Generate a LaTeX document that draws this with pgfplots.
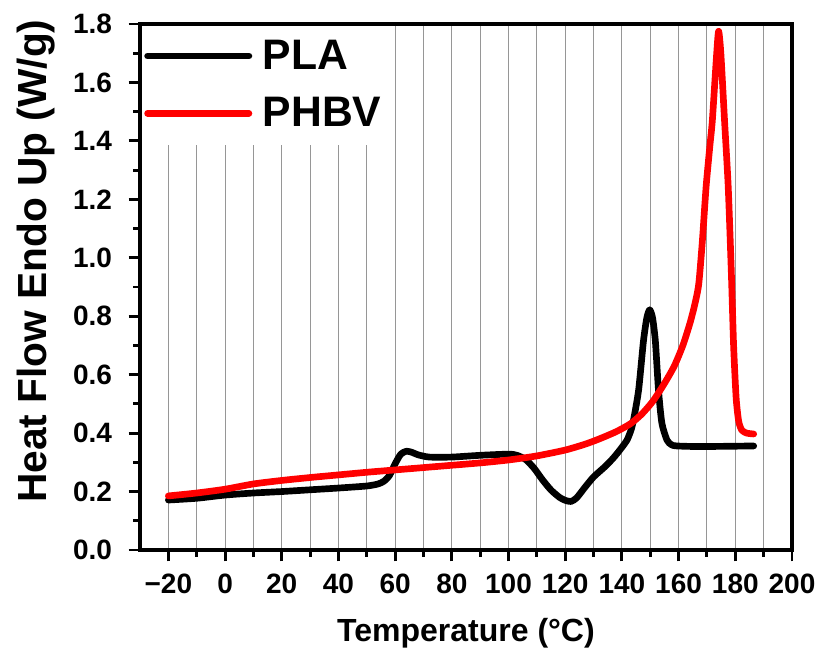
\documentclass[border=0pt]{standalone}
\usepackage{pgfplots}
\pgfplotsset{compat=1.18}
\usepackage{fontspec}
\setmainfont{Liberation Sans}
\definecolor{gridgray}{RGB}{150,150,150}
\definecolor{phbvred}{RGB}{255,0,0}
\begin{document}
\begin{tikzpicture}
\begin{axis}[
  name=main,
  scale only axis, width=489pt, height=394.5pt,
  xmin=-30, xmax=200, ymin=0, ymax=1.8,
  axis line style={line width=3.5pt},
  tick style={line width=2.2pt, black},
  major tick length=8.5pt, minor tick length=5pt,
  tick align=outside, tick pos=left,
  xtick={-20,0,20,40,60,80,100,120,140,160,180,200},
  xticklabels={−20,0,20,40,60,80,100,120,140,160,180,200},
  minor x tick num=1,
  ytick={0,0.2,0.4,0.6,0.8,1.0,1.2,1.4,1.6,1.8},
  minor y tick num=1,
  /pgf/number format/assume math mode=true,
  ticklabel style={font=\bfseries\fontsize{21pt}{21pt}\selectfont},
  xticklabel style={yshift=-6pt},
  yticklabel style={xshift=-9pt, /pgf/number format/.cd, fixed, fixed zerofill, precision=1},
  xmajorgrids, xminorgrids,
  major grid style={gridgray, line width=0.8pt},
  minor grid style={gridgray, line width=0.8pt},
  every axis x label/.style={at={(axis description cs:0.5,0)}, anchor=base, yshift=-69pt},
  every axis y label/.style={at={(axis description cs:0,0.549)}, rotate=90, anchor=base, yshift=69.75pt},
  xlabel={\bfseries\fontsize{24pt}{24pt}\selectfont Temperature (°C)},
  ylabel={\bfseries\fontsize{30.5pt}{30.5pt}\selectfont Heat Flow Endo Up (W/g)},
  legend style={at={(rel axis cs:0,1)}, anchor=north west, draw=none, fill=white,
    font=\bfseries\fontsize{32pt}{32pt}\selectfont, inner xsep=3pt, inner ysep=10pt,
    row sep=15.5pt},
  legend cell align=left,
  legend image code/.code={\draw[#1, line cap=round] (0pt,0pt) -- (76pt,0pt); \path (82pt,0pt);},
]
\addplot[black, line width=5pt, line cap=round, line join=round, smooth, tension=0.4] coordinates {
(-20,0.171) (-10,0.177) (0,0.188) (10,0.195) (20,0.200) (30,0.206) (40,0.212)
(50,0.219) (54,0.226) (56,0.235) (58,0.255) (60,0.295) (62,0.328) (64,0.338)
(66,0.334) (68,0.326) (72,0.318) (80,0.318) (90,0.324) (100,0.328) (103,0.324)
(106,0.31) (109,0.28) (112,0.24) (115,0.205) (118,0.18) (120,0.17) (122,0.166)
(124,0.178) (127,0.215) (130,0.25) (134,0.285) (137,0.315) (139.5,0.345)
(141.8,0.376) (143.2,0.41) (144.1,0.445) (145.9,0.548) (147.6,0.715) (148.8,0.795)
(149.8,0.822) (150.8,0.795) (151.8,0.715) (152.9,0.548) (154.1,0.434)
(155.9,0.376) (157.5,0.36) (159.4,0.356) (167.6,0.354) (186.5,0.356)
};
\addlegendentry{PLA}
\addplot[phbvred, line width=5pt, line cap=round, line join=round, smooth, tension=0.4] coordinates {
(-20,0.185) (-10,0.195) (0,0.208) (10,0.226) (20,0.238) (30,0.248) (40,0.257)
(50,0.266) (60,0.274) (70,0.282) (80,0.29) (90,0.298) (100,0.308) (110,0.322)
(120,0.342) (127,0.362) (132,0.38) (138,0.405) (143,0.432) (147,0.465)
(151,0.51) (155,0.57) (158.5,0.63) (161.5,0.70) (164,0.776) (165.7,0.84)
(167.1,0.91) (168.4,1.06) (169.7,1.243) (171,1.38) (171.9,1.47) (173.3,1.68)
(174.1,1.775) (174.9,1.70) (176.2,1.47) (177.5,1.243) (178.6,0.95) (179.4,0.70)
(180.3,0.52) (181.2,0.44) (182.3,0.41) (184,0.40) (186.5,0.397)
};
\addlegendentry{PHBV}
\end{axis}
\draw[line width=3.5pt, line join=miter] (main.south west) rectangle (main.north east);
\pgfresetboundingbox
\path[use as bounding box] (-105pt,-76.5pt) rectangle (509.25pt,412.5pt);
\end{tikzpicture}
\end{document}
